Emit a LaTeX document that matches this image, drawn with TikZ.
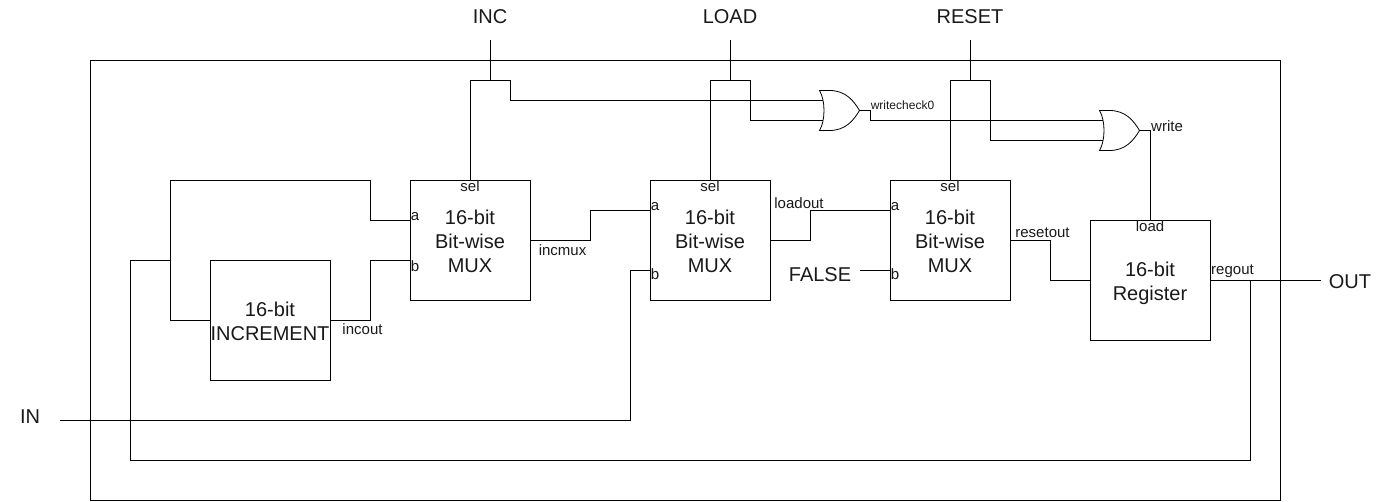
\documentclass[tikz,border=0pt]{standalone}
\usepackage{fontspec}
\setmainfont{Liberation Sans}
\newcommand\blkline[1]{#1\strut\kern0.75pt}
\newcommand\blktop[1]{\rule{0pt}{17.1pt}#1\strut\kern0.75pt}
\tikzset{
  block/.style={draw=black,line width=0.75pt,fill=none,minimum width=90pt,minimum height=90pt,inner sep=0pt,align=center,font=\fontsize{15}{18}\selectfont,text=black!90},
  frame/.style={draw=black,line width=0.75pt,minimum width=892.5pt,minimum height=330pt,inner sep=0pt},
  big/.style={inner sep=0pt,xshift=-0.375pt,font=\fontsize{15}{18}\selectfont,text=black!90},
  small/.style={inner sep=0pt,xshift=-0.375pt,font=\fontsize{11.25}{13}\selectfont,text=black!90},
  tiny/.style={inner sep=0pt,xshift=-0.375pt,font=\fontsize{9}{11}\selectfont,text=black!90},
  wire/.style={line width=0.75pt,draw=black,line cap=rect},
  gate/.style={line width=0.6pt,draw=black,fill=white}
}
\begin{document}
\begin{tikzpicture}[x=0.75pt,y=-0.75pt]
\useasboundingbox (0,0) rectangle (1381,502);
\begin{scope}[shift={(0.5,0.5)}]
\node[frame] (outer) at (685,280) {};
\node[block] (incr) at (270,320) {\blktop{16-bit}\\\blkline{INCREMENT}};
\node[block] (muxa) at (470,240) {\blktop{16-bit}\\\blkline{Bit-wise}\\\blkline{MUX}};
\node[block] (muxb) at (710,240) {\blktop{16-bit}\\\blkline{Bit-wise}\\\blkline{MUX}};
\node[block] (muxc) at (950,240) {\blktop{16-bit}\\\blkline{Bit-wise}\\\blkline{MUX}};
\node[block] (reg) at (1150,280) {\blktop{16-bit}\\\blkline{Register}};
% external labels
\node[big] (lin) at (30,416) {IN};
\node[big] (linc) at (490,16) {INC};
\node[big] (lload) at (730,16) {LOAD};
\node[big] (lreset) at (970,16) {RESET};
\node[big] (lout) at (1350,281) {OUT};
\node[big] (lfalse) at (820,274) {FALSE};
% wire ends
\coordinate (incin) at (490,40);
\coordinate (loadin) at (730,40);
\coordinate (resetin) at (970,40);
\coordinate (inin) at (60,420);
\coordinate (outend) at (1320,280);
\coordinate (falseend) at (860,270);
\coordinate (muxaa) at (410,220);
\coordinate (muxab) at (410,260);
\coordinate (muxba) at (650,210);
\coordinate (muxbb) at (650,270);
\coordinate (muxca) at (890,210);
\coordinate (muxcb) at (890,270);
\coordinate (incnode) at (490,80);
\coordinate (loadnode) at (730,80);
\coordinate (resetnode) at (970,80);
\coordinate (regnode) at (1250,280);
\coordinate (fbnode) at (170,260);
% wires
\draw[wire] (incin) -- (incnode);
\draw[wire] (muxa.north) |- (incnode) -- (510,80) -- (510,100) -- (822,100);
\draw[wire] (loadin) -- (loadnode);
\draw[wire] (muxb.north) |- (loadnode) -- (750,80) -- (750,120) -- (822,120);
\draw[wire] (resetin) -- (resetnode);
\draw[wire] (muxc.north) |- (resetnode) -- (990,80) -- (990,140) -- (1102,140);
\draw[wire] (859,110) -- (870,110) -- (870,120) -- (1102,120);
\draw[wire] (1139,130) -- (1150,130) -- (reg.north);
\draw[wire] (muxa.east) -- (590,240) -- (590,210) -- (muxba);
\draw[wire] (muxb.east) -- (810,240) -- (810,210) -- (muxca);
\draw[wire] (muxc.east) -- (1050,240) -- (1050,280) -- (reg.west);
\draw[wire] (reg.east) -- (outend);
\draw[wire] (regnode) -- (1250,460) -- (130,460) -- (130,260) -- (fbnode);
\draw[wire] (incr.west) -- (170,320) -- (170,180) -- (370,180) -- (370,220) -- (muxaa);
\draw[wire] (incr.east) -- (370,320) -- (370,260) -- (muxab);
\draw[wire] (inin) -- (630,420) -- (630,270) -- (muxbb);
\draw[wire] (falseend) -- (muxcb);
% OR gates
\draw[gate] (819,90) -- (829,90) .. controls (845,90) and (853,100) .. (859,110)
  .. controls (853,120) and (845,130) .. (829,130) -- (819,130)
  .. controls (825,120) and (825,100) .. (819,90) -- cycle;
\draw[gate] (1099,110) -- (1109,110) .. controls (1125,110) and (1133,120) .. (1139,130)
  .. controls (1133,140) and (1125,150) .. (1109,150) -- (1099,150)
  .. controls (1105,140) and (1105,120) .. (1099,110) -- cycle;
% port and wire labels
\node[small] (sela) at (470,186) {sel};
\node[small] (selb) at (710,186) {sel};
\node[small] (selc) at (950,186) {sel};
\node[small] (pa) at (415,216) {a};
\node[small] (pb) at (415,266) {b};
\node[small] (qa) at (655,206) {a};
\node[small] (qb) at (655,274) {b};
\node[small] (ra) at (895,206) {a};
\node[small] (rb) at (895,274) {b};
\node[small] (lincmux) at (562.5,250) {incmux};
\node[small] (lincout) at (362.5,329) {incout};
\node[small] (lloadout) at (799,203) {loadout};
\node[small] (lresetout) at (1042.5,232) {resetout};
\node[small] (lregout) at (1232.5,271) {regout};
\node[small] (lloadp) at (1150,226) {load};
\node[small] (lwrite) at (1167,126) {write};
\node[tiny] (lwc) at (902.5,105) {writecheck0};
\end{scope}
\end{tikzpicture}
\end{document}
